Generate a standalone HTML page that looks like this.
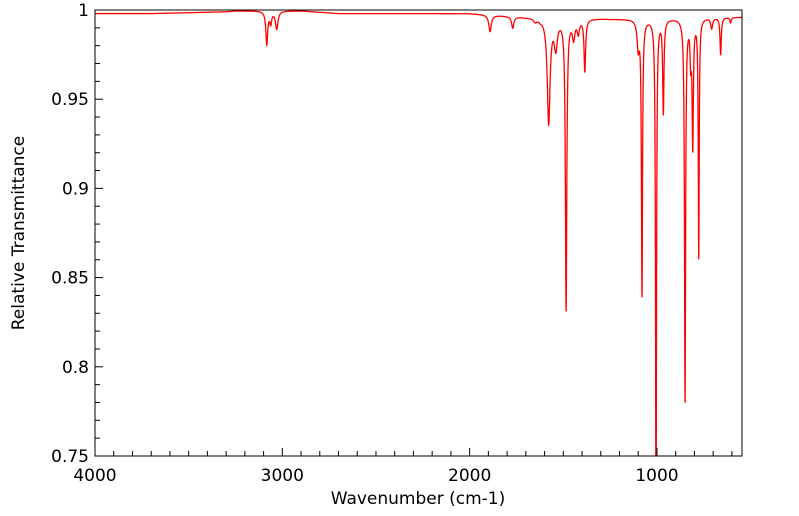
<!DOCTYPE html>
<html><head><meta charset="utf-8"><style>
html,body{margin:0;padding:0;background:#fff;width:799px;height:516px;overflow:hidden;}
svg{display:block;font-family:"DejaVu Sans","Liberation Sans",sans-serif;}
</style></head><body>
<svg id="chart" width="799" height="516" viewBox="0 0 799 516" xmlns="http://www.w3.org/2000/svg">
<defs><clipPath id="plotclip"><rect x="95" y="10" width="647" height="446"/></clipPath></defs>
<path id="spectrum" fill="none" stroke="#ff0000" stroke-width="1.3" clip-path="url(#plotclip)"/>
<rect x="95" y="10" width="647" height="446" fill="none" stroke="#000" stroke-width="1"/>
<g id="axes"></g>
<text x="418" y="504" text-anchor="middle" font-size="17">Wavenumber (cm-1)</text>
<text transform="translate(24,233) rotate(-90)" text-anchor="middle" font-size="17">Relative Transmittance</text>
</svg>
<script>
const xTicks=[4000,3000,2000,1000];
const yTicks=[1,0.95,0.9,0.85,0.8,0.75];
const yTickLabels=["1","0.95","0.9","0.85","0.8","0.75"];
const peakCenters=[3083,3062,3030,1891,1770,1650,1622,1578,1540,1485,1445,1420,1385,1247,1215,1100,1080,1005,966,850,820,809,777,708,660,607];
const peakMinima=[0.981,0.993,0.9894,0.988,0.990,0.994,0.995,0.937,0.98,0.8324,0.985,0.988,0.966,0.995,0.995,0.98,0.841,0.70,0.943,0.781,0.975,0.925,0.862,0.99,0.975,0.993];
const peakWidths=[6,6,8,8,7,10,8,9,10,4.5,8,7,5,8,7,7,3.5,3,4,3.5,4,4,3,6,4,4];
const baseKnotsW=[4000,3700,3300,3250,2900,2700,2000,1700,1200,700,546];
const baseKnotsV=[0.998,0.998,0.999,0.9995,0.9995,0.998,0.998,0.996,0.995,0.996,0.996];

const X0=95,X1=742,Y0=10,Y1=456,WMAX=4000,WMIN=546,VMAX=1,VMIN=0.75;
const xs=w=>X0+(WMAX-w)/(WMAX-WMIN)*(X1-X0);
const ys=v=>Y0+(VMAX-v)/(VMAX-VMIN)*(Y1-Y0);
const NS="http://www.w3.org/2000/svg";
function base(w){for(let i=0;i<baseKnotsW.length-1;i++){const a=baseKnotsW[i],b=baseKnotsW[i+1];if(w<=a&&w>=b){const t=(a-w)/(a-b);return baseKnotsV[i]+t*(baseKnotsV[i+1]-baseKnotsV[i]);}}return 0.998;}
function T(w){let b=base(w),t=b;for(let i=0;i<peakCenters.length;i++){const d=1-peakMinima[i]/b;const u=(w-peakCenters[i])/peakWidths[i];t*=1-d/(1+u*u);}return t;}
let d="";
for(let w=WMAX;w>=WMIN;w-=0.5){d+=(d?"L":"M")+xs(w).toFixed(2)+","+ys(T(w)).toFixed(2);}
document.getElementById("spectrum").setAttribute("d",d);
const ax=document.getElementById("axes");
function line(x1,y1,x2,y2,name){const l=document.createElementNS(NS,"line");l.setAttribute("x1",x1);l.setAttribute("y1",y1);l.setAttribute("x2",x2);l.setAttribute("y2",y2);l.setAttribute("stroke","#000");


ax.appendChild(l);}
for(let w=4000;w>=WMIN;w-=100){const major=w%1000===0;line(xs(w),Y1,xs(w),Y1-(major?8:5),major?"x-major-tick":"x-minor-tick");}
for(let v=100;v>=75;v--){const vv=v/100;const major=v%5===0;line(X0,ys(vv),X0+(major?8:5),ys(vv),major?"y-major-tick":"y-minor-tick");}
xTicks.forEach(w=>{const t=document.createElementNS(NS,"text");t.setAttribute("x",xs(w));t.setAttribute("y",481);t.setAttribute("text-anchor","middle");t.setAttribute("font-size","17");t.textContent=w;


ax.appendChild(t);});
yTicks.forEach((v,i)=>{const t=document.createElementNS(NS,"text");t.setAttribute("x",89);t.setAttribute("y",ys(v)+6);t.setAttribute("text-anchor","end");t.setAttribute("font-size","17");t.textContent=yTickLabels[i];


ax.appendChild(t);});
</script>
</body></html>
